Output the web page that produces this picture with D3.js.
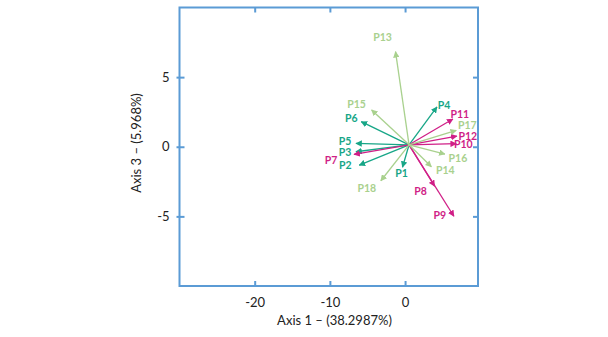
<!DOCTYPE html>
<html>
<head>
<meta charset="utf-8">
<script src="https://cdn.jsdelivr.net/npm/d3@7"></script>
<style>
  body { margin: 0; background: #fff; }
  text { font-family: Lato, "Open Sans", sans-serif; }
</style>
</head>
<body>
<div id="chart"></div>
<script>
// Biplot of variable loadings (Axis 1 vs Axis 3)

// Pt. 0 - DATA

const names = ["P1", "P2", "P3", "P4", "P5", "P6", "P7", "P8", "P9",
               "P10", "P11", "P12", "P13", "P14", "P15", "P16", "P17", "P18"];
const groups = ["A", "A", "A", "A", "A", "A", "B", "B", "B",
                "B", "B", "B", "C", "C", "C", "C", "C", "C"];
const axis1 = [-0.34, -6.09, -6.53, 4.24, -6.53, -5.83, -6.79, 3.93, 6.49,
               6.81, 6.36, 6.89, -1.27, 3.50, -4.45, 5.30, 6.81, -3.22];
const axis3 = [-1.47, -1.32, -0.36, 2.86, 0.24, 1.80, -0.55, -2.83, -4.99,
               0.22, 1.99, 0.77, 6.83, -1.44, 2.64, -0.53, 1.18, -2.44];
const origin = [0.53, 0.14];  // vectors start here
const xTicks = [-20, -10, 0];
const yTicks = [-5, 0, 5];

// label nudges (px) from the arrow tip
const labelNudge = {
    P1: [-1, 6], P2: [-14, 0], P3: [-11, 0], P4: [7, -2], P5: [-11, -2], P6: [-10, -4],
    P7: [-23, 6], P8: [-14, 5], P9: [-14, -1], P10: [7, 0], P11: [7, -5], P12: [11, 0],
    P13: [-13, -15], P14: [14, 3], P15: [-15, -6], P16: [13, 4], P17: [11, -5], P18: [-14, 7]
};

const data = names.map((n, i) => ({ name: n, group: groups[i], x: axis1[i], y: axis3[i] }));

// Pt. 1 - SETUP

const width = 608, height = 337,
      margin = ({ top: 7.5, right: 130, bottom: 51, left: 179.5 });

const color = d3.scaleOrdinal()
    .domain(["A", "B", "C"])
    .range(["#17a687", "#d01f87", "#a9d18e"]);

const frameColor = "#5b9bd5";
const plain = d => String(d);  // hyphen minus, like the original

let svg = d3.select("#chart")
    .append("svg")
    .attr("width", width)
    .attr("height", height)
    .attr("viewBox", [0, 0, width, height]);

let x = d3.scaleLinear()
    .domain([-30, 9.7])
    .range([margin.left, width - margin.right]);

let y = d3.scaleLinear()
    .domain([-10, 10])
    .range([height - margin.bottom, margin.top]);

// arrowheads, one per group
let defs = svg.append("defs");
color.domain().forEach(g => {
    defs.append("marker")
        .attr("id", "arrow-" + g)
        .attr("viewBox", "0 0 10 10")
        .attr("refX", 9)
        .attr("refY", 5)
        .attr("markerWidth", 5)
        .attr("markerHeight", 5)
        .attr("markerUnits", "strokeWidth")
        .attr("orient", "auto")
        .append("path")
        .attr("d", "M0,0 L10,5 L0,10 z")
        .attr("fill", color(g));
});

// Pt. 2 - AXES (box frame with inward ticks)

const tickStyle = g => {
    g.select(".domain").remove();
    g.selectAll(".tick line").attr("stroke", frameColor).attr("stroke-width", 2);
    g.selectAll(".tick text").attr("fill", "#222").style("font-size", "13px");
};

svg.append("g")
    .attr("transform", `translate(0, ${y.range()[0]})`)
    .call(d3.axisBottom(x).tickValues(xTicks).tickFormat(plain).tickSize(-5).tickPadding(12))
    .call(tickStyle);

svg.append("g")
    .attr("transform", `translate(0, ${y.range()[1]})`)
    .call(d3.axisTop(x).tickValues(xTicks).tickSize(-5).tickFormat(""))
    .call(tickStyle);

svg.append("g")
    .attr("transform", `translate(${x.range()[0]}, 0)`)
    .call(d3.axisLeft(y).tickValues(yTicks).tickFormat(plain).tickSize(-5).tickPadding(10))
    .call(tickStyle)
    .selectAll(".tick line").attr("x1", -3);

svg.append("g")
    .attr("transform", `translate(${x.range()[1]}, 0)`)
    .call(d3.axisRight(y).tickValues(yTicks).tickSize(-5).tickFormat(""))
    .call(tickStyle);

svg.append("rect")
    .attr("x", x.range()[0])
    .attr("y", y.range()[1])
    .attr("width", x.range()[1] - x.range()[0])
    .attr("height", y.range()[0] - y.range()[1])
    .attr("fill", "none")
    .attr("stroke", frameColor)
    .attr("stroke-width", 2);

svg.append("text")
    .attr("x", 334.5)
    .attr("y", 325)
    .attr("text-anchor", "middle")
    .attr("fill", "#222")
    .style("font-size", "13px")
    .text("Axis 1 – (38.2987%)");

svg.append("text")
    .attr("transform", "translate(141, 143) rotate(-90)")
    .attr("text-anchor", "middle")
    .attr("fill", "#222")
    .style("font-size", "13px")
    .text("Axis 3 – (5.968%)");

// Pt. 3 - VECTORS

let vec = svg.selectAll(".vec")
    .data(data)
    .join("g")
    .attr("class", "vec");

vec.append("line")
    .attr("x1", x(origin[0]))
    .attr("y1", y(origin[1]))
    .attr("x2", d => x(d.x))
    .attr("y2", d => y(d.y))
    .attr("stroke", d => color(d.group))
    .attr("stroke-width", 1.3)
    .attr("marker-end", d => `url(#arrow-${d.group})`);

svg.selectAll(".lab")
    .data(data)
    .join("text")
    .attr("class", "lab")
    .attr("x", d => x(d.x) + labelNudge[d.name][0])
    .attr("y", d => y(d.y) + labelNudge[d.name][1])
    .attr("text-anchor", "middle")
    .attr("dominant-baseline", "central")
    .attr("fill", d => color(d.group))
    .style("font-size", "10.5px")
    .style("font-weight", "bold")
    .text(d => d.name);
</script>
</body>
</html>
